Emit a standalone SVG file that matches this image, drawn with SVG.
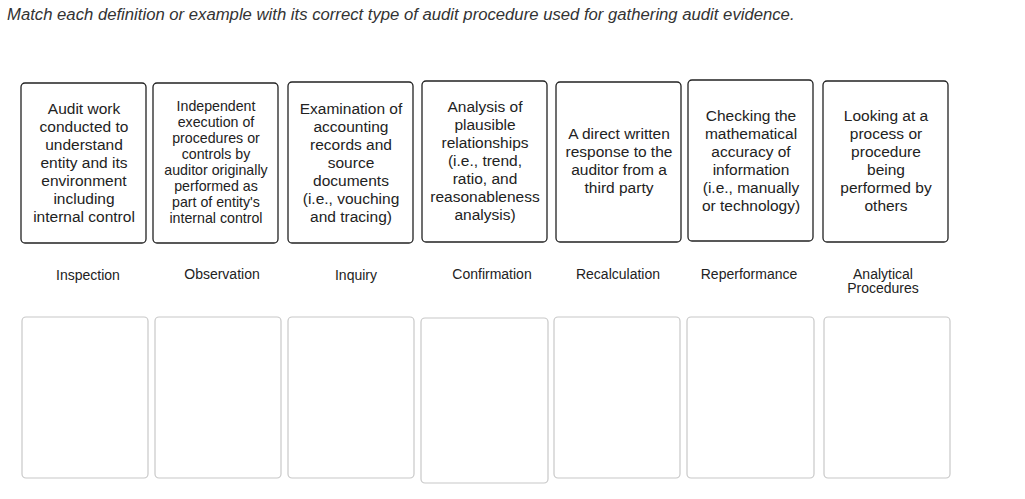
<svg xmlns="http://www.w3.org/2000/svg" width="1025" height="499" viewBox="0 0 1025 499">
<style>
text{font-family:Arial,"Liberation Sans",sans-serif;fill:#222;text-anchor:middle}
.t{font-size:15.5px}
.s{font-size:14.2px}
.l{font-size:14px}
.q{font-size:16.7px;font-style:italic;text-anchor:start;fill:#333}
.c{fill:#fff;stroke:#222;stroke-width:1.3}
.d{fill:#fff;stroke:#c8c8c8;stroke-width:1.2}
</style>
<rect width="1025" height="499" fill="#fff"/>
<text class="q" x="7" y="20">Match each definition or example with its correct type of audit procedure used for gathering audit evidence.</text>
<g id="card1"><rect class="c" x="21" y="83" width="125" height="160" rx="4"/><text class="t" x="84" y="114">Audit work<tspan x="84" dy="18">conducted to</tspan><tspan x="84" dy="18">understand</tspan><tspan x="84" dy="18">entity and its</tspan><tspan x="84" dy="18">environment</tspan><tspan x="84" dy="18">including</tspan><tspan x="84" dy="18">internal control</tspan></text></g>
<g id="card2"><rect class="c" x="153" y="83" width="125" height="160" rx="4"/><text class="s" x="216" y="111">Independent<tspan x="216" dy="16">execution of</tspan><tspan x="216" dy="16">procedures or</tspan><tspan x="216" dy="16">controls by</tspan><tspan x="216" dy="16">auditor originally</tspan><tspan x="216" dy="16">performed as</tspan><tspan x="216" dy="16">part of entity's</tspan><tspan x="216" dy="16">internal control</tspan></text></g>
<g id="card3"><rect class="c" x="288" y="82" width="125" height="161" rx="4"/><text class="t" x="351" y="114">Examination of<tspan x="351" dy="18">accounting</tspan><tspan x="351" dy="18">records and</tspan><tspan x="351" dy="18">source</tspan><tspan x="351" dy="18">documents</tspan><tspan x="351" dy="18">(i.e., vouching</tspan><tspan x="351" dy="18">and tracing)</tspan></text></g>
<g id="card4"><rect class="c" x="422" y="81" width="125" height="161" rx="4"/><text class="t" x="485" y="112">Analysis of<tspan x="485" dy="18">plausible</tspan><tspan x="485" dy="18">relationships</tspan><tspan x="485" dy="18">(i.e., trend,</tspan><tspan x="485" dy="18">ratio, and</tspan><tspan x="485" dy="18">reasonableness</tspan><tspan x="485" dy="18">analysis)</tspan></text></g>
<g id="card5"><rect class="c" x="556" y="82" width="125" height="160" rx="4"/><text class="t" x="619" y="139">A direct written<tspan x="619" dy="18">response to the</tspan><tspan x="619" dy="18">auditor from a</tspan><tspan x="619" dy="18">third party</tspan></text></g>
<g id="card6"><rect class="c" x="688" y="80" width="125" height="161" rx="4"/><text class="t" x="751" y="121">Checking the<tspan x="751" dy="18">mathematical</tspan><tspan x="751" dy="18">accuracy of</tspan><tspan x="751" dy="18">information</tspan><tspan x="751" dy="18">(i.e., manually</tspan><tspan x="751" dy="18">or technology)</tspan></text></g>
<g id="card7"><rect class="c" x="823" y="81" width="125" height="161" rx="4"/><text class="t" x="886" y="121">Looking at a<tspan x="886" dy="18">process or</tspan><tspan x="886" dy="18">procedure</tspan><tspan x="886" dy="18">being</tspan><tspan x="886" dy="18">performed by</tspan><tspan x="886" dy="18">others</tspan></text></g>
<g id="labels">
<text class="l" x="88" y="280">Inspection</text>
<text class="l" x="222" y="279">Observation</text>
<text class="l" x="356" y="280">Inquiry</text>
<text class="l" x="492" y="279">Confirmation</text>
<text class="l" x="618" y="279">Recalculation</text>
<text class="l" x="749" y="279">Reperformance</text>
<text class="l" x="883" y="279">Analytical<tspan x="883" dy="14">Procedures</tspan></text>
</g>
<g id="drops">
<rect class="d" x="22" y="317" width="126" height="161" rx="4"/>
<rect class="d" x="155" y="317" width="126" height="161" rx="4"/>
<rect class="d" x="288" y="317" width="126" height="161" rx="4"/>
<rect class="d" x="421" y="318" width="127" height="165" rx="4"/>
<rect class="d" x="554" y="317" width="126" height="161" rx="4"/>
<rect class="d" x="687" y="317" width="127" height="161" rx="4"/>
<rect class="d" x="824" y="317" width="126" height="161" rx="4"/>
</g>
</svg>
